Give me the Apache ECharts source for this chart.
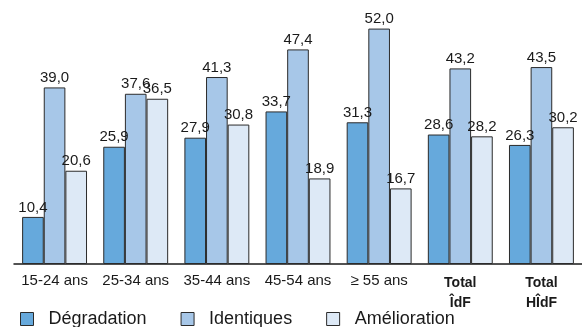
<!DOCTYPE html>
<html>
<head>
<meta charset="utf-8">
<style>
  html, body { margin: 0; padding: 0; background: #fff; }
  #chart { width: 582px; height: 327px; }
</style>
<script src="https://cdn.jsdelivr.net/npm/echarts@6/dist/echarts.min.js"></script>
</head>
<body>
<div id="chart"></div>
<script>
// Age groups and regional totals
const categories = ['15-24 ans', '25-34 ans', '35-44 ans', '45-54 ans', '≥ 55 ans', 'Total\nÎdF', 'Total\nHÎdF'];

// Shares (%) per answer
const degradation = [10.4, 25.9, 27.9, 33.7, 31.3, 28.6, 26.3];
const identiques  = [39.0, 37.6, 41.3, 47.4, 52.0, 43.2, 43.5];
const amelioration = [20.6, 36.5, 30.8, 18.9, 16.7, 28.2, 30.2];

const seriesNames = ['Dégradation', 'Identiques', 'Amélioration'];
const seriesColors = ['#66a9dc', '#a7c7e8', '#dde9f6'];

const FONT = '"Liberation Sans", Arial, sans-serif';

const chart = echarts.init(document.getElementById('chart'), null, { renderer: 'canvas' });

function makeSeries(name, data, color) {
  return {
    name: name,
    type: 'bar',
    data: data,
    barGap: '0%',
    barCategoryGap: '20%',
    itemStyle: { color: color, borderColor: '#2b2b2b', borderWidth: 1 },
    label: {
      show: true,
      position: 'top',
      distance: 2,
      color: '#1a1a1a',
      fontFamily: FONT,
      fontSize: 15,
      formatter: p => p.value.toFixed(1).replace('.', ',')
    },
    emphasis: { disabled: true },
    animation: false
  };
}

chart.setOption({
  animation: false,
  grid: { left: 14, right: -3, top: 15, bottom: 63, containLabel: false },
  legend: {
    left: 20,
    top: 310,
    padding: 0,
    itemWidth: 13,
    itemHeight: 13,
    itemGap: 34,
    icon: 'rect',
    data: seriesNames,
    textStyle: { fontFamily: FONT, fontSize: 18, color: '#1a1a1a', padding: [0, 0, 0, 10] },
    itemStyle: { borderColor: '#2b2b2b', borderWidth: 1 }
  },
  xAxis: {
    type: 'category',
    data: categories,
    axisLine: { lineStyle: { color: '#1a1a1a', width: 1.5 } },
    axisTick: { show: false },
    axisLabel: {
      margin: 9,
      interval: 0,
      color: '#1a1a1a',
      fontFamily: FONT,
      fontSize: 15,
      formatter: v => v.indexOf('\n') >= 0
        ? v.split('\n').map(s => '{b|' + s + '}').join('\n')
        : v,
      rich: {
        b: { fontWeight: 'bold', fontSize: 14, lineHeight: 20, fontFamily: FONT, color: '#1a1a1a' }
      }
    }
  },
  yAxis: {
    type: 'value',
    min: 0,
    max: 55,
    show: false,
    splitLine: { show: false }
  },
  series: [
    makeSeries(seriesNames[0], degradation, seriesColors[0]),
    makeSeries(seriesNames[1], identiques, seriesColors[1]),
    makeSeries(seriesNames[2], amelioration, seriesColors[2])
  ]
});
</script>
</body>
</html>
